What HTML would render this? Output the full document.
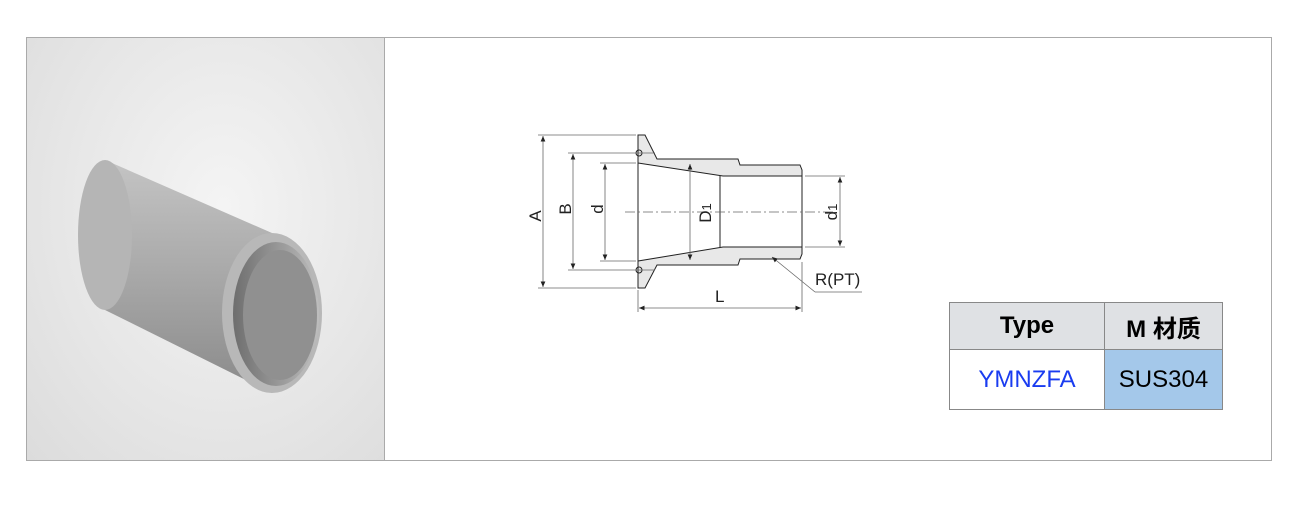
<!DOCTYPE html>
<html><head><meta charset="utf-8"><style>
body{margin:0;width:1300px;height:520px;background:#fff;overflow:hidden;font-family:"Liberation Sans","Noto Sans CJK SC",sans-serif}
.frame{position:absolute;left:26px;top:37px;width:1244px;height:422px;border:1px solid #aaa}
.photo{position:absolute;left:27px;top:38px;width:357px;height:422px;background:radial-gradient(ellipse at 55% 40%,#f4f4f4 0%,#e6e6e6 60%,#dcdcdc 100%);border-right:1px solid #aaa}
table{position:absolute;left:949px;top:302px;border-collapse:collapse;font-size:24px;table-layout:fixed;width:274px}
td{border:1px solid #888;text-align:center;padding:0}
</style></head><body>
<div class="frame"></div>
<div class="photo">
<svg width="357" height="422" viewBox="0 0 357 422">
<defs>
<linearGradient id="g" x1="0" y1="0" x2="0" y2="1"><stop offset="0" stop-color="#c4c4c4"/><stop offset="0.45" stop-color="#ababab"/><stop offset="1" stop-color="#8a8a8a"/></linearGradient>
<linearGradient id="h" x1="0" y1="0" x2="1" y2="0"><stop offset="0" stop-color="#6e6e6e"/><stop offset="1" stop-color="#bdbdbd"/></linearGradient>
</defs>
<path d="M78 122 L245 195 L245 355 L78 272 Z" fill="url(#g)"/>
<ellipse cx="78" cy="197" rx="27" ry="75" fill="#b5b5b5"/>
<ellipse cx="245" cy="275" rx="50" ry="80" fill="#b8b8b8"/>
<ellipse cx="249" cy="276" rx="43" ry="72" fill="url(#h)"/>
<ellipse cx="253" cy="277" rx="37" ry="65" fill="#909090"/>
</svg></div>
<svg style="position:absolute;left:0;top:0" width="1300" height="520">
<defs><marker id="a" markerWidth="8" markerHeight="8" refX="7" refY="3" orient="auto-start-reverse"><path d="M0 0 L7 3 L0 6 Z" fill="#222"/></marker></defs>
<g fill="none" stroke="#222" stroke-width="1">
<path d="M638 135 L645 135 L657 159 L738 159 L740 165 L800 165 L802 170 L802 254 L800 259 L740 259 L738 265 L657 265 L645 288 L638 288 Z" fill="#e8e8e8"/>
<path d="M638 163 L723 176 L802 176 L802 247 L723 247 L638 261 Z" fill="#fff"/>
<line x1="720" y1="176" x2="720" y2="247"/>
<circle cx="639" cy="153" r="3"/><circle cx="639" cy="270" r="3"/>
</g>
<g stroke="#666" stroke-width="0.8" fill="none">
<line x1="538" y1="135" x2="636" y2="135"/><line x1="538" y1="288" x2="636" y2="288"/>
<line x1="568" y1="153" x2="655" y2="153"/><line x1="568" y1="270" x2="655" y2="270"/>
<line x1="600" y1="163" x2="636" y2="163"/><line x1="600" y1="261" x2="636" y2="261"/>
<line x1="805" y1="176" x2="845" y2="176"/><line x1="805" y1="247" x2="845" y2="247"/>
<line x1="638" y1="290" x2="638" y2="312"/><line x1="802" y1="262" x2="802" y2="312"/>
<g marker-start="url(#a)" marker-end="url(#a)">
<line x1="543" y1="136" x2="543" y2="287"/><line x1="573" y1="154" x2="573" y2="269"/>
<line x1="605" y1="164" x2="605" y2="260"/><line x1="690" y1="164" x2="690" y2="260"/>
<line x1="840" y1="177" x2="840" y2="246"/><line x1="639" y1="308" x2="801" y2="308"/>
</g>
<line x1="625" y1="212" x2="835" y2="212" stroke-dasharray="10,3,2,3"/>
<path d="M815 292 L772 257" marker-end="url(#a)"/><path d="M815 292 L862 292"/>
</g>
<g font-size="17" fill="#222" font-family="Liberation Sans,sans-serif">
<text transform="translate(541,216) rotate(-90)" text-anchor="middle">A</text>
<text transform="translate(571,209) rotate(-90)" text-anchor="middle">B</text>
<text transform="translate(603,209) rotate(-90)" text-anchor="middle">d</text>
<text transform="translate(711,213) rotate(-90)" text-anchor="middle">D<tspan font-size="13">1</tspan></text>
<text transform="translate(837,212) rotate(-90)" text-anchor="middle">d<tspan font-size="13">1</tspan></text>
<text x="715" y="302">L</text>
<text x="815" y="285">R(PT)</text>
</g>
</svg>
<table>
<tr><td style="width:154px;height:46px;background:#dfe1e4;font-weight:bold">Type</td><td style="height:46px;background:#dfe1e4;font-weight:bold">M 材质</td></tr>
<tr><td style="height:59px;color:#1a3cf0">YMNZFA</td><td style="background:#a4c8ea">SUS304</td></tr>
</table>
</body></html>
